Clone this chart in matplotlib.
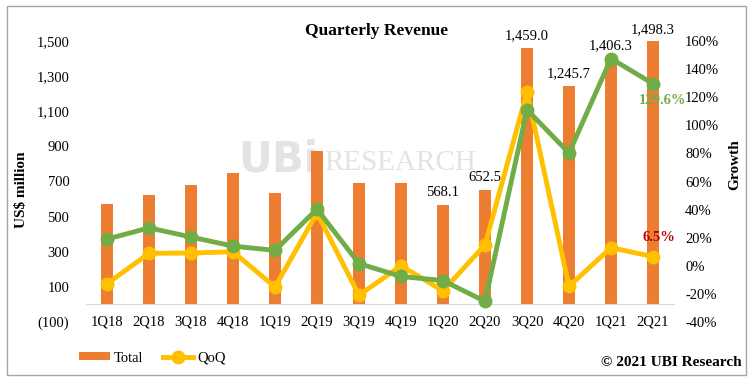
import matplotlib
matplotlib.use('Agg')
import matplotlib.pyplot as plt
from matplotlib.patches import Rectangle
from matplotlib.ticker import FuncFormatter

quarters = ['1Q18', '2Q18', '3Q18', '4Q18', '1Q19', '2Q19', '3Q19', '4Q19',
            '1Q20', '2Q20', '3Q20', '4Q20', '1Q21', '2Q21']
total = [572, 623, 680, 748, 635, 874, 691, 691,
         568.1, 652.5, 1459.0, 1245.7, 1406.3, 1498.3]
qoq = [-12.8, 8.9, 9.1, 10.0, -15.1, 37.6, -20.9, 0.0,
       -17.8, 14.9, 123.6, -14.6, 12.9, 6.5]
yoy = [19.0, 27.0, 20.5, 14.0, 11.0, 40.3, 1.6, -7.6,
       -10.5, -25.3, 111.1, 80.3, 147.5, 129.6]
labeled = ['', '', '', '', '', '', '', '',
           '568.1', '652.5', '1,459.0', '1,245.7', '1,406.3', '1,498.3']

ORANGE = '#ED7D31'
YELLOW = '#FFC000'
GREEN = '#70AD47'
plt.rcParams['font.family'] = 'Liberation Serif'

fig = plt.figure(figsize=(7.52, 3.84), dpi=100)
ax = fig.add_axes([86/752, 62/384, 588/752, 281/384])
ax2 = ax.twinx()

# watermark behind the bars
ax.text(318/752, (384-160)/384, 'UBi', fontsize=30, fontweight='bold', color='#e3e3e3',
        family='DejaVu Sans', ha='right', va='center', transform=fig.transFigure, zorder=0)
ax.text(324/752, (384-163)/384, 'RESEARCH', fontsize=21, color='#e3e3e3',
        ha='left', va='center', transform=fig.transFigure, zorder=0)

x = list(range(len(quarters)))
bars = ax.bar(x, total, width=0.3, color=ORANGE, zorder=2)
ax.bar_label(bars, labels=labeled, padding=4, fontsize=10.5)
ax.set_xlim(-0.5, len(quarters) - 0.5)
ax.set_ylim(-100, 1500)
ax.set_yticks(range(-100, 1501, 200))
ax.yaxis.set_major_formatter(FuncFormatter(
    lambda v, p: f'({abs(v):,.0f})' if v < 0 else f'{v:,.0f}'))
ax.set_xticks(x)
ax.set_xticklabels(quarters)
ax.tick_params(axis='x', length=0, pad=8, labelsize=10.5)
ax.tick_params(axis='y', length=0, pad=12, labelsize=10.5)
for s in ['top', 'right', 'left']:
    ax.spines[s].set_visible(False)
ax.spines['bottom'].set_position(('data', 0))
ax.spines['bottom'].set_color('#d9d9d9')

line_q, = ax2.plot(x, qoq, color=YELLOW, lw=3.5, marker='o', ms=9, zorder=3)
ax2.plot(x, yoy, color=GREEN, lw=3.5, marker='o', ms=9, zorder=4)
ax2.set_ylim(-40, 160)
ax2.set_yticks(range(-40, 161, 20))
ax2.yaxis.set_major_formatter(FuncFormatter(lambda v, p: f'{v:.0f}%'))
ax2.tick_params(axis='y', length=0, pad=8, labelsize=10.5)
for s in ['top', 'right', 'left', 'bottom']:
    ax2.spines[s].set_visible(False)

ax2.annotate('129.6%', (x[-1], yoy[-1]), xytext=(7, -12), textcoords='offset points',
             ha='center', va='center', color=GREEN, fontweight='bold', fontsize=10.5)
ax2.annotate('6.5%', (x[-1], qoq[-1]), xytext=(4, 14), textcoords='offset points',
             ha='center', va='center', color='#C00000', fontweight='bold', fontsize=10.5)

fig.text(0.501, 0.918, 'Quarterly Revenue', fontsize=12.5, fontweight='bold',
         ha='center', va='center')
fig.text(22/752, 0.505, 'US$ million', rotation=90, fontsize=11, fontweight='bold',
         ha='center', va='center')
fig.text(735/752, 0.57, 'Growth', rotation=90, fontsize=11, fontweight='bold',
         ha='center', va='center')
fig.text(742/752, (384-363)/384, '\u00a9 2021 UBI Research', fontsize=11,
         fontweight='bold', ha='right', va='center')

fig.legend([bars, line_q], ['Total', 'QoQ'], loc='center left',
           bbox_to_anchor=(66/752, (384-358)/384), ncol=2, frameon=False,
           fontsize=10.5, handlelength=2.1, handleheight=0.45,
           columnspacing=1.3, handletextpad=0.3)

fig.patches.append(Rectangle((7/752, 9/384), 739/752, 369/384, transform=fig.transFigure,
                             fill=False, edgecolor='#a6a6a6', lw=1))

fig.savefig('out.png', dpi=100)
